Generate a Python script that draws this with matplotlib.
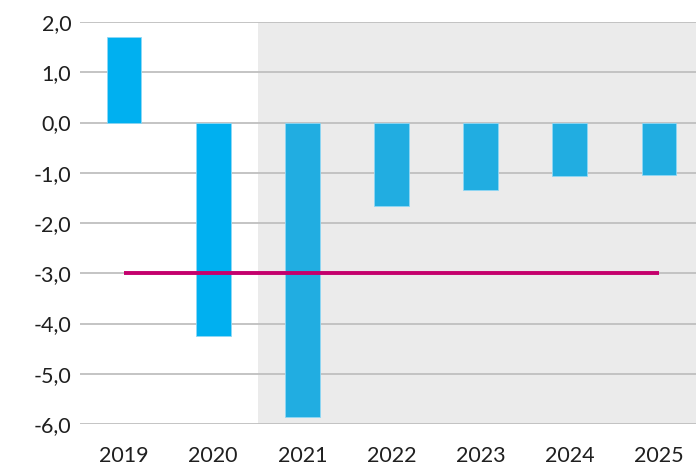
import matplotlib.pyplot as plt
import numpy as np

# data
years = ['2019', '2020', '2021', '2022', '2023', '2024', '2025']
balance = [1.70, -4.25, -5.86, -1.66, -1.35, -1.07, -1.05]
limit = -3.0
yticks = [2, 1, 0, -1, -2, -3, -4, -5, -6]
forecast_from = 2  # index of first shaded (forecast) year

plt.rcParams['font.family'] = ['Lato', 'DejaVu Sans']

fig = plt.figure(figsize=(6.96, 4.68), dpi=100)
# axes extend past the right edge, as in the reference crop
ax = fig.add_axes([79.5 / 696, (468 - 424) / 468, 624 / 696, 402 / 468])

x = np.arange(len(years))
colors = ['#00B0F0' if i < forecast_from else '#21ADE1' for i in x]

ax.axvspan(forecast_from - 0.5, len(years) - 0.5, color='#EBEBEB', zorder=0, lw=0)
for t in yticks:
    ax.axhline(t, color='#BFBFBF', lw=1.3, zorder=1)

ax.bar(x, balance, width=0.39, color=colors, edgecolor='#8FD8F5', linewidth=0.6, zorder=2)
ax.plot([x[0], x[-1]], [limit, limit], color='#C4006C', lw=2.8, zorder=3, solid_capstyle='butt')

ax.set_xlim(-0.5, len(years) - 0.5)
ax.set_ylim(-6, 2)
ax.set_yticks(yticks)
ax.set_yticklabels([f'{t:.1f}'.replace('.', ',') for t in yticks])
ax.set_xticks(x)
ax.set_xticklabels(years)
ax.tick_params(length=0, labelsize=15.5, colors='#1F1F1F', pad=6)
ax.tick_params(axis='x', pad=16)
for s in ax.spines.values():
    s.set_visible(False)

fig.savefig('out.png', dpi=100)
